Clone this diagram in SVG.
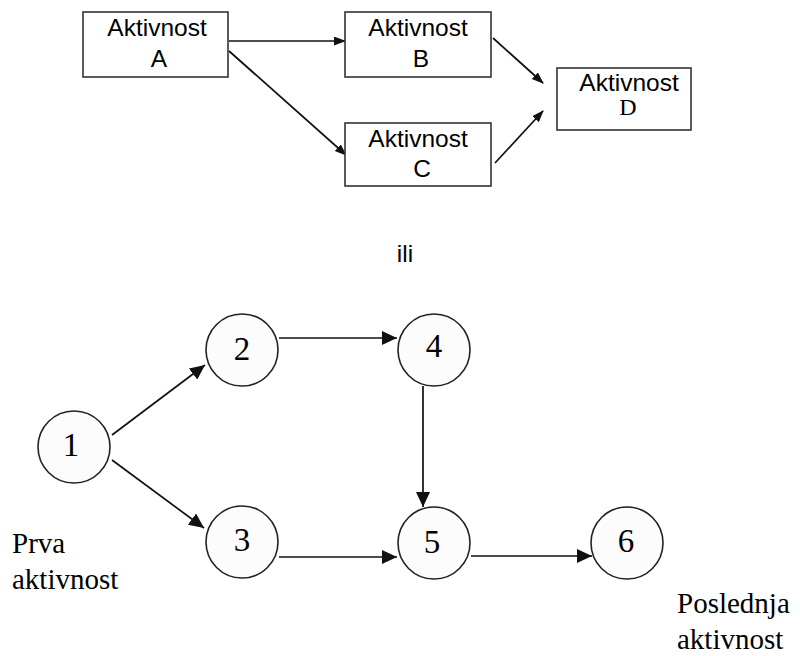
<svg xmlns="http://www.w3.org/2000/svg" width="800" height="656" viewBox="0 0 800 656">
<style>
.box{fill:#fff;stroke:#333;stroke-width:1.6}
.ss{font-family:"Liberation Sans",Arial,sans-serif;font-size:24.5px;fill:#000;text-anchor:middle}
.sf{font-family:"Liberation Serif","Times New Roman",serif;fill:#000}
.num{font-size:33px;text-anchor:middle}
.lbl{font-size:29px}
.node{fill:#fcfcfc;stroke:#222;stroke-width:1.6}
.e1{stroke:#111;stroke-width:1.7;fill:none;marker-end:url(#ah1)}
.e2{stroke:#111;stroke-width:1.7;fill:none;marker-end:url(#ah2)}
</style>
<defs>
<marker id="ah1" markerUnits="userSpaceOnUse" markerWidth="12" markerHeight="10" refX="11" refY="4.5" orient="auto"><path d="M0,0 L12,4.5 L0,9 z" fill="#111"/></marker>
<marker id="ah2" markerUnits="userSpaceOnUse" markerWidth="16" markerHeight="14" refX="15" refY="7" orient="auto"><path d="M0,0 L15,7 L0,14 z" fill="#111"/></marker>
</defs>
<rect width="800" height="656" fill="#fff"/>
<g id="connectors">
<line class="e1" x1="229" y1="41" x2="345" y2="41"/>
<line class="e1" x1="229" y1="51" x2="346" y2="155"/>
<line class="e1" x1="493" y1="38" x2="543" y2="83"/>
<line class="e1" x1="495" y1="163" x2="543" y2="111"/>
<line class="e2" x1="112" y1="435" x2="205" y2="365"/>
<line class="e2" x1="112" y1="460" x2="204" y2="528"/>
<line class="e2" x1="279" y1="338" x2="397" y2="338"/>
<line class="e2" x1="279" y1="557" x2="397" y2="557"/>
<line class="e2" x1="423" y1="386" x2="423" y2="507"/>
<line class="e2" x1="471" y1="556" x2="592" y2="556"/>
</g>
<g id="boxA"><rect class="box" x="83" y="12" width="145" height="65"/><text class="ss" x="157" y="36">Aktivnost</text><text class="ss" x="159" y="67">A</text></g>
<g id="boxB"><rect class="box" x="345" y="12" width="146" height="65"/><text class="ss" x="418" y="36">Aktivnost</text><text class="ss" x="421" y="67">B</text></g>
<g id="boxC"><rect class="box" x="345" y="123" width="146" height="63"/><text class="ss" x="418" y="147">Aktivnost</text><text class="ss" x="422" y="177">C</text></g>
<g id="boxD"><rect class="box" x="557" y="68" width="134" height="62"/><text class="ss" x="629" y="91">Aktivnost</text><text class="sf" x="628" y="115" font-size="24" text-anchor="middle">D</text></g>
<text class="ss" x="405" y="262">ili</text>
<g id="n1"><circle class="node" cx="74" cy="447" r="36"/><text class="sf num" x="71" y="456">1</text></g>
<g id="n2"><circle class="node" cx="242" cy="350" r="36"/><text class="sf num" x="242" y="360">2</text></g>
<g id="n3"><circle class="node" cx="242" cy="542" r="36"/><text class="sf num" x="242" y="551">3</text></g>
<g id="n4"><circle class="node" cx="434" cy="350" r="36"/><text class="sf num" x="434" y="357">4</text></g>
<g id="n5"><circle class="node" cx="434" cy="543" r="36"/><text class="sf num" x="432" y="553">5</text></g>
<g id="n6"><circle class="node" cx="627" cy="543" r="36"/><text class="sf num" x="626" y="552">6</text></g>
<text class="sf lbl" x="12" y="553">Prva</text>
<text class="sf lbl" x="12" y="589">aktivnost</text>
<text class="sf lbl" x="677" y="613">Poslednja</text>
<text class="sf lbl" x="677" y="649">aktivnost</text>
</svg>
